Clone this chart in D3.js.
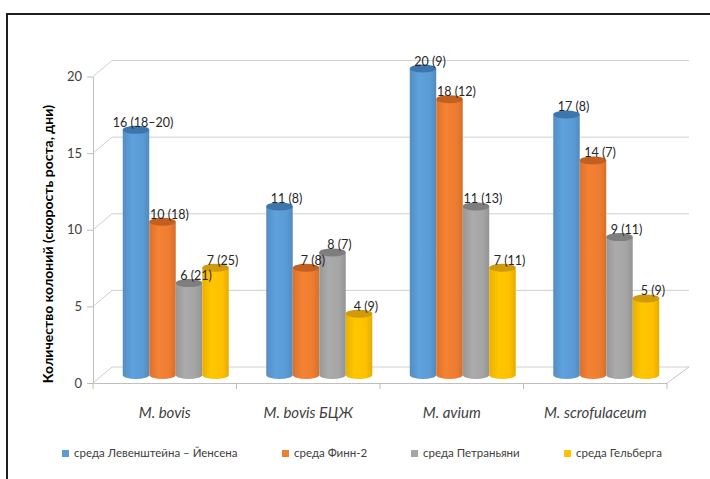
<!DOCTYPE html>
<html>
<head>
<meta charset="utf-8">
<script src="https://cdn.jsdelivr.net/npm/d3@7"></script>
<style>
  body { margin: 0; background: #fff; }
  svg { display: block; font-family: Lato, "Open Sans", sans-serif; }
</style>
</head>
<body>
<svg id="chart" width="710" height="479"></svg>
<script>
// categories and series
const categories = ["M. bovis", "M. bovis БЦЖ", "M. avium", "M. scrofulaceum"];
const seriesNames = ["среда Левенштейна – Йенсена", "среда Финн-2", "среда Петраньяни", "среда Гельберга"];

// number of colonies per medium
const levenstein = [16, 11, 20, 17];
const finn2 = [10, 7, 18, 14];
const petragnani = [6, 8, 11, 9];
const gelberg = [7, 4, 7, 5];

// growth speed (days), shown in brackets
const levensteinDays = ["18–20", "8", "9", "8"];
const finn2Days = ["18", "8", "12", "7"];
const petragnaniDays = ["21", "7", "13", "11"];
const gelbergDays = ["25", "9", "11", "9"];

const yTicks = [0, 5, 10, 15, 20];

const seriesValues = [levenstein, finn2, petragnani, gelberg];
const seriesDays = [levensteinDays, finn2Days, petragnaniDays, gelbergDays];
const bodyColors = ["#5b9bd5", "#ed7d31", "#a5a5a5", "#ffc000"];
const topColors = ["#3d76ad", "#c3601f", "#7e7e7e", "#cf9a0c"];

const svg = d3.select("#chart");

// outer frame
svg.append("rect")
    .attr("x", 7).attr("y", 14)
    .attr("width", 720).attr("height", 480)
    .attr("fill", "none")
    .attr("stroke", "#1e1e1e")
    .attr("stroke-width", 2);

// 3d depth offset of the back wall
const depthX = 19, depthY = -16;

const x = d3.scaleBand().domain(categories).range([93, 667]).padding(0);
const yFront = d3.scaleLinear().domain([0, 20]).range([383, 76.5]);

// gridlines on the back wall, with the diagonal from the front axis
const grid = svg.append("g");
yTicks.forEach(v => {
    const yf = yFront(v);
    grid.append("path")
        .attr("d", `M93,${yf}L${93 + depthX},${yf + depthY}L${667 + depthX + 3},${yf + depthY}`)
        .attr("fill", "none")
        .attr("stroke", "#d0d0d0")
        .attr("stroke-width", 1);
});
// right edge of floor
grid.append("line")
    .attr("x1", 667).attr("y1", yFront(0))
    .attr("x2", 667 + depthX + 3).attr("y2", yFront(0) + depthY)
    .attr("stroke", "#c4c4c4");

// front value axis
const yAxis = svg.append("g")
    .attr("transform", "translate(93,0)")
    .call(d3.axisLeft(yFront).tickValues(yTicks).tickSize(6).tickSizeOuter(0).tickPadding(5));
yAxis.select(".domain").attr("stroke", "#bfbfbf");
yAxis.selectAll(".tick line").attr("stroke", "#bfbfbf");
yAxis.selectAll(".tick text")
    .attr("fill", "#404040")
    .style("font-size", "13px")
    .style("font-family", "Lato, sans-serif");

// category axis (front floor edge)
const xAxis = svg.append("g")
    .attr("transform", `translate(0,${yFront(0)})`)
    .call(d3.axisBottom(x).tickSize(0).tickPadding(24));
xAxis.select(".domain").attr("stroke", "#bfbfbf");
xAxis.selectAll(".tick text")
    .attr("fill", "#404040")
    .style("font-size", "15px")
    .style("font-style", "italic")
    .style("font-family", "Lato, sans-serif");
const bounds = categories.map(c => x(c)).concat([x.range()[1]]);
svg.append("g").selectAll("line")
    .data(bounds)
    .join("line")
    .attr("x1", d => d).attr("x2", d => d)
    .attr("y1", yFront(0)).attr("y2", yFront(0) + 6)
    .attr("stroke", "#bfbfbf");

// cylinder gradients
const defs = svg.append("defs");
bodyColors.forEach((c, i) => {
    const g = defs.append("linearGradient")
        .attr("id", "cyl" + i)
        .attr("x1", "0%").attr("x2", "100%").attr("y1", "0%").attr("y2", "0%");
    const base = d3.color(c);
    g.append("stop").attr("offset", "0%").attr("stop-color", base.darker(0.25));
    g.append("stop").attr("offset", "35%").attr("stop-color", base.brighter(0.1));
    g.append("stop").attr("offset", "75%").attr("stop-color", base);
    g.append("stop").attr("offset", "100%").attr("stop-color", base.darker(0.3));
});

// bars sit at mid depth
const barShiftX = 11, barShiftY = depthY / 2;
const groupWidth = 106;
const xInner = d3.scaleBand().domain(d3.range(seriesNames.length)).range([0, groupWidth]);
const yBar = v => yFront(v) + barShiftY;
const ry = 4;

const bars = svg.append("g");
const labels = svg.append("g");
categories.forEach((cat, ci) => {
    const gx = x(cat) + (x.bandwidth() - groupWidth) / 2 + barShiftX;
    seriesValues.forEach((vals, si) => {
        const left = gx + xInner(si);
        const w = xInner.bandwidth();
        const rx = w / 2;
        const top = yBar(vals[ci]);
        const bottom = yBar(0);
        bars.append("path")
            .attr("d", `M${left},${top}L${left},${bottom}A${rx},${ry} 0 0 0 ${left + w},${bottom}L${left + w},${top}Z`)
            .attr("fill", `url(#cyl${si})`);
        bars.append("ellipse")
            .attr("cx", left + rx).attr("cy", top)
            .attr("rx", rx).attr("ry", ry)
            .attr("fill", topColors[si]);
        labels.append("text")
            .attr("x", left + rx + 7)
            .attr("y", top - 3)
            .attr("text-anchor", "middle")
            .attr("fill", "#262626")
            .style("font-size", "12.5px")
            .text(`${vals[ci]} (${seriesDays[si][ci]})`);
    });
});

// y axis title
svg.append("text")
    .attr("transform", "translate(53,244) rotate(-90)")
    .attr("text-anchor", "middle")
    .attr("fill", "#000")
    .style("font-size", "14px")
    .style("font-weight", "bold")
    .text("Количество колоний (скорость роста, дни)");

// legend
const legendX = [62, 282, 411, 564];
const legend = svg.append("g").selectAll("g")
    .data(seriesNames)
    .join("g")
    .attr("transform", (d, i) => `translate(${legendX[i]},450)`);
legend.append("rect")
    .attr("width", 7).attr("height", 7)
    .attr("fill", (d, i) => bodyColors[i]);
legend.append("text")
    .attr("x", 12).attr("y", 7)
    .attr("fill", "#404040")
    .style("font-size", "11.5px")
    .text(d => d);
</script>
</body>
</html>
